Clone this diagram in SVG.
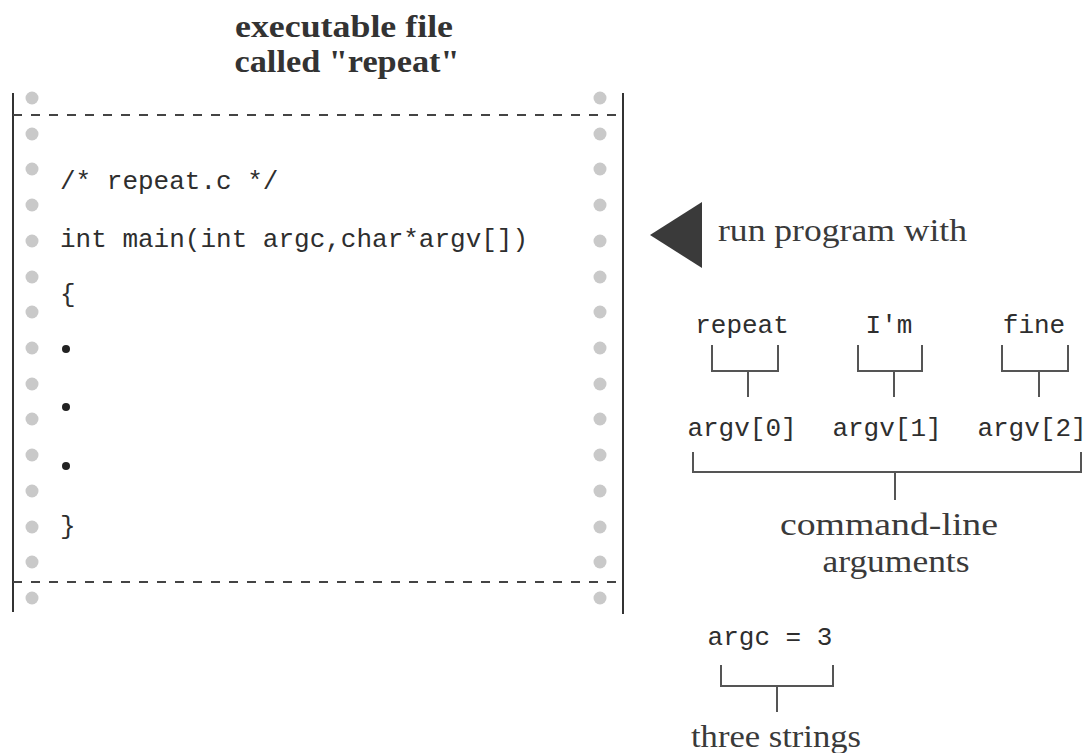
<svg xmlns="http://www.w3.org/2000/svg" width="1092" height="753" viewBox="0 0 1092 753">
<style>
.mono{font-family:"Liberation Mono","Courier New",monospace;font-size:26px;fill:#2e2e2e}
.serif{font-family:"Liberation Serif","Times New Roman",serif;font-size:31px;fill:#3a3a3a}
.title{font-family:"Liberation Serif","Times New Roman",serif;font-size:31px;font-weight:bold;fill:#333}
.frame{stroke:#333;stroke-width:2;fill:none}
.dash{stroke:#444;stroke-width:2;stroke-dasharray:9,9;fill:none}
.br{stroke:#555;stroke-width:2;fill:none}
.hole{fill:#c9c9c9}
</style>
<rect width="1092" height="753" fill="#ffffff"/>
<g id="title">
<text class="title" x="344" y="37" text-anchor="middle" textLength="218" lengthAdjust="spacingAndGlyphs">executable file</text>
<text class="title" x="347" y="72" text-anchor="middle" textLength="225" lengthAdjust="spacingAndGlyphs">called "repeat"</text>
</g>
<g id="file">
<line class="frame" x1="13" y1="93" x2="13" y2="612"/>
<line class="frame" x1="623" y1="93" x2="623" y2="614"/>
<line class="dash" x1="13" y1="115" x2="623" y2="115"/>
<line class="dash" x1="13" y1="582" x2="623" y2="582"/>
<g id="holes-left">
<circle class="hole" cx="32" cy="98" r="6.5"/><circle class="hole" cx="32" cy="134" r="6.5"/><circle class="hole" cx="32" cy="169" r="6.5"/><circle class="hole" cx="32" cy="205" r="6.5"/><circle class="hole" cx="32" cy="241" r="6.5"/><circle class="hole" cx="32" cy="277" r="6.5"/><circle class="hole" cx="32" cy="312" r="6.5"/><circle class="hole" cx="32" cy="348" r="6.5"/><circle class="hole" cx="32" cy="384" r="6.5"/><circle class="hole" cx="32" cy="419" r="6.5"/><circle class="hole" cx="32" cy="455" r="6.5"/><circle class="hole" cx="32" cy="491" r="6.5"/><circle class="hole" cx="32" cy="527" r="6.5"/><circle class="hole" cx="32" cy="562" r="6.5"/><circle class="hole" cx="32" cy="598" r="6.5"/>
</g>
<g id="holes-right">
<circle class="hole" cx="600" cy="98" r="6.5"/><circle class="hole" cx="600" cy="134" r="6.5"/><circle class="hole" cx="600" cy="169" r="6.5"/><circle class="hole" cx="600" cy="205" r="6.5"/><circle class="hole" cx="600" cy="241" r="6.5"/><circle class="hole" cx="600" cy="277" r="6.5"/><circle class="hole" cx="600" cy="312" r="6.5"/><circle class="hole" cx="600" cy="348" r="6.5"/><circle class="hole" cx="600" cy="384" r="6.5"/><circle class="hole" cx="600" cy="419" r="6.5"/><circle class="hole" cx="600" cy="455" r="6.5"/><circle class="hole" cx="600" cy="491" r="6.5"/><circle class="hole" cx="600" cy="527" r="6.5"/><circle class="hole" cx="600" cy="562" r="6.5"/><circle class="hole" cx="600" cy="598" r="6.5"/>
</g>
<text class="mono" x="60" y="189">/* repeat.c */</text>
<text class="mono" x="60" y="247">int main(int argc,char*argv[])</text>
<text class="mono" x="60" y="302">{</text>
<circle cx="66" cy="349" r="4" fill="#222"/>
<circle cx="66" cy="407" r="4" fill="#222"/>
<circle cx="66" cy="466" r="4" fill="#222"/>
<text class="mono" x="60" y="534">}</text>
</g>
<g id="run">
<polygon points="650,235 702,202 702,268" fill="#3a3a3a"/>
<text class="serif" x="718" y="241" textLength="249" lengthAdjust="spacingAndGlyphs">run program with</text>
</g>
<g id="args">
<text class="mono" x="742" y="333" text-anchor="middle">repeat</text>
<text class="mono" x="889" y="333" text-anchor="middle">I'm</text>
<text class="mono" x="1034" y="333" text-anchor="middle">fine</text>
<text class="mono" x="742" y="436" text-anchor="middle">argv[0]</text>
<text class="mono" x="887" y="436" text-anchor="middle">argv[1]</text>
<text class="mono" x="1032" y="436" text-anchor="middle">argv[2]</text>
<text class="serif" x="889" y="535" text-anchor="middle" textLength="218" lengthAdjust="spacingAndGlyphs">command-line</text>
<text class="serif" x="896" y="572" text-anchor="middle" textLength="147" lengthAdjust="spacingAndGlyphs">arguments</text>
</g>
<g id="argc">
<text class="mono" x="770" y="645" text-anchor="middle">argc = 3</text>
<text class="serif" x="776" y="747" text-anchor="middle" textLength="170" lengthAdjust="spacingAndGlyphs">three strings</text>
</g>
<g id="connectors">
<path class="br" d="M712,345 V371 H778 V345 M748,371 V397"/>
<path class="br" d="M858,345 V371 H922 V345 M894,371 V397"/>
<path class="br" d="M1002,345 V371 H1068 V345 M1039,371 V397"/>
<path class="br" d="M693,452 V472 H1081 V452 M895,472 V500"/>
<path class="br" d="M721,665 V686 H833 V665 M777,686 V712"/>
</g>
</svg>
